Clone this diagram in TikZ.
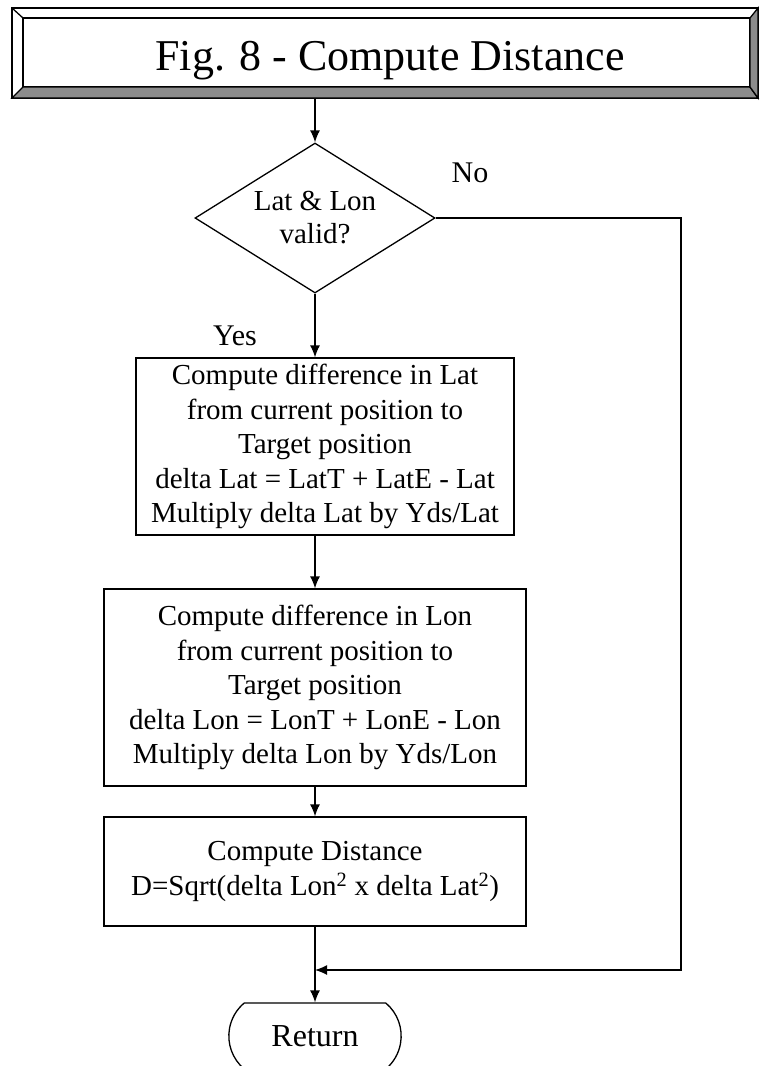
\documentclass[tikz,border=0pt]{standalone}
\usepackage{fontspec}
\setmainfont{Liberation Serif}
\usetikzlibrary{arrows.meta,shapes.geometric,shapes.misc}

\begin{document}
\begin{tikzpicture}[x=1pt,y=-1pt,line width=1.3pt,
    flow/.style={-{Latex[length=12pt,width=10pt]}},
    proc/.style={draw,align=center,inner sep=0pt,font=\fontsize{29}{34.5}\selectfont},
    lbl/.style={anchor=base,font=\fontsize{30}{36}\selectfont}]
    \fill[white] (0,0) rectangle (760,1066);
    \useasboundingbox (0,0) rectangle (760,1066);
    %title
    \node[draw,minimum width=746pt,minimum height=90pt,inner sep=0pt] (title) at (385,53) {};
    \draw (23,18) rectangle (750,87);
    \draw (12,8) -- (23,18);
    \draw[fill=black!45] (12,98) -- (23,87) -- (750,87) -- (758,98) -- cycle;
    \draw[fill=black!45] (750,18) -- (758,8) -- (758,98) -- (750,87) -- cycle;
    \node[anchor=base,font=\fontsize{44}{52}\selectfont] (caption) at (390,70) {Fig. 8 - Compute Distance};
    %steps
    \node[draw,diamond,aspect=1.6,minimum width=240pt,minimum height=150pt,inner sep=0pt,
      align=center,font=\fontsize{29}{33}\selectfont] (dia) at (315,218) {Lat \& Lon\\valid?};
    \node[proc,minimum width=378pt,minimum height=177pt] (lat) at (325,446.5)
      {Compute difference in Lat\\from current position to\\Target position\\delta Lat = LatT + LatE - Lat\\Multiply delta Lat by Yds/Lat};
    \node[proc,minimum width=422pt,minimum height=197pt] (lon) at (315,687.5)
      {Compute difference in Lon\\from current position to\\Target position\\delta Lon = LonT + LonE - Lon\\Multiply delta Lon by Yds/Lon};
    \node[proc,minimum width=422pt,minimum height=109pt] (dist) at (315,871.5)
      {Compute Distance\\D=Sqrt(delta Lon\textsuperscript{2} x delta Lat\textsuperscript{2})};
    \node[draw,rounded rectangle,rounded rectangle arc length=100,minimum width=179pt,minimum height=66pt,
      font=\fontsize{32}{38}\selectfont] (ret) at (315,1036) {Return};
    \node[lbl] (no) at (470,182) {No};
    \node[lbl] (yes) at (235,345) {Yes};
    %arrows
    \coordinate (join) at (315,970);
    \coordinate (bend) at (681,970);
    \draw[flow] (title.south -| dia.north) -- (dia.north);
    \draw[flow] (dia.south) -- (dia.south |- lat.north);
    \draw[flow] (lon.north |- lat.south) -- (lon.north);
    \draw[flow] (lon.south) -- (dist.north);
    \draw[flow] (dist.south) -- (ret.north);
    \draw[flow] (dia.east) -| (bend) -- (join);
\end{tikzpicture}
\end{document}
